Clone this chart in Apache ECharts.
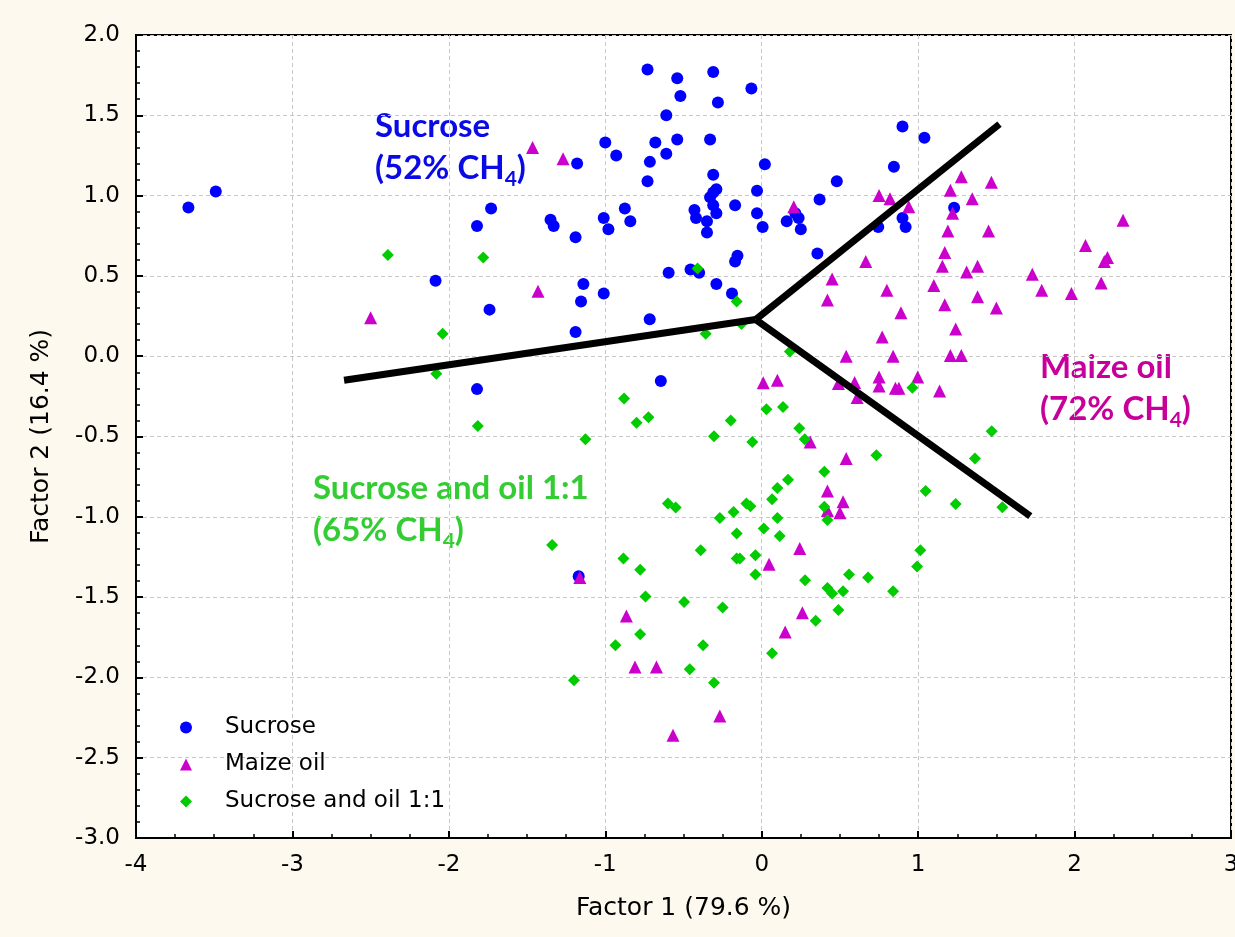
<!DOCTYPE html>
<html>
<head>
<meta charset="utf-8">
<script src="https://cdn.jsdelivr.net/npm/echarts@6/dist/echarts.min.js"></script>
<style>
  html, body { margin: 0; padding: 0; background: #fdf9ee; overflow: hidden; }
  #chart { width: 1235px; height: 937px; }
</style>
</head>
<body>
<div id="chart"></div>
<script>
// values, [factor1, factor2]
var sucrose = [
  [-3.665, 0.926], [-3.49, 1.026],
  [-1.0, 1.33], [-0.93, 1.25], [-1.18, 1.20], [-1.73, 0.92], [-1.82, 0.81], [-1.35, 0.85], [-1.33, 0.81],
  [-1.19, 0.74], [-1.01, 0.86], [-0.875, 0.92], [-0.84, 0.84], [-0.98, 0.79], [-2.085, 0.47], [-1.14, 0.45],
  [-1.01, 0.39], [-1.155, 0.34], [-1.74, 0.29], [-1.19, 0.15], [-0.716, 0.23], [-0.645, -0.155],
  [-1.82, -0.205], [-1.17, -1.37],
  [-0.73, 1.785], [-0.54, 1.73], [-0.31, 1.77], [-0.066, 1.667], [-0.52, 1.62], [-0.28, 1.58], [-0.61, 1.50],
  [-0.68, 1.33], [-0.54, 1.35], [-0.33, 1.35], [-0.61, 1.26], [-0.715, 1.21], [-0.73, 1.09], [-0.31, 1.13],
  [0.02, 1.195], [-0.29, 1.04], [-0.31, 1.02], [-0.33, 0.99], [-0.31, 0.94], [-0.29, 0.89], [-0.43, 0.91],
  [-0.42, 0.86], [-0.35, 0.84], [-0.35, 0.77], [-0.17, 0.94], [-0.03, 1.03], [-0.03, 0.89], [0.006, 0.805],
  [0.37, 0.975], [0.48, 1.09], [0.215, 0.89], [0.236, 0.86], [0.16, 0.84], [0.25, 0.79], [0.90, 1.43],
  [1.04, 1.36], [0.845, 1.18], [0.90, 0.86], [0.92, 0.805], [0.745, 0.805], [0.356, 0.64], [-0.155, 0.625],
  [-0.17, 0.59], [-0.595, 0.52], [-0.455, 0.54], [-0.40, 0.52], [-0.29, 0.45], [-0.19, 0.39], [1.23, 0.925]
];
var maizeOil = [
  [-1.465, 1.30], [-1.27, 1.23], [-1.43, 0.405], [-2.50, 0.24],
  [0.205, 0.93], [0.75, 1.0], [0.82, 0.98], [0.94, 0.93], [0.665, 0.59], [0.45, 0.48], [0.42, 0.35],
  [0.80, 0.41], [1.276, 1.117], [1.468, 1.083], [1.206, 1.034], [1.346, 0.98], [1.22, 0.89], [1.19, 0.78],
  [1.45, 0.78], [1.17, 0.645], [1.155, 0.56], [1.38, 0.56], [1.31, 0.525], [1.10, 0.44], [1.38, 0.37],
  [1.17, 0.32], [1.50, 0.30], [1.24, 0.17], [1.206, 0.004], [1.276, 0.004], [2.31, 0.847], [2.07, 0.69],
  [2.21, 0.615], [2.19, 0.59], [1.73, 0.51], [2.17, 0.456], [1.79, 0.41], [1.98, 0.39],
  [0.89, 0.27], [0.77, 0.12], [0.54, 0.0], [0.84, 0.0], [0.594, -0.164], [0.75, -0.13], [0.75, -0.185],
  [0.855, -0.20], [0.877, -0.20], [0.997, -0.13], [1.137, -0.216], [0.61, -0.257], [0.49, -0.17],
  [0.01, -0.166], [0.10, -0.15], [0.31, -0.534], [0.54, -0.637], [0.42, -0.84], [0.52, -0.907],
  [0.42, -0.96], [0.50, -0.975],
  [0.243, -1.197], [0.047, -1.295], [-1.163, -1.378], [-0.865, -1.617], [0.26, -1.598], [0.15, -1.717],
  [-0.81, -1.935], [-0.673, -1.935], [-0.268, -2.24], [-0.567, -2.36]
];
var sucroseOil = [
  [-2.39, 0.63], [-1.78, 0.615], [-2.04, 0.14], [-2.08, -0.11], [-1.815, -0.434], [-1.34, -1.175], [-1.20, -2.017],
  [-0.41, 0.546], [-0.16, 0.34], [-0.358, 0.14], [-0.13, 0.20], [0.18, 0.03], [-0.88, -0.264], [-0.80, -0.415],
  [-0.724, -0.38], [-1.127, -0.517], [-0.305, -0.498], [-0.198, -0.40], [-0.06, -0.535], [0.03, -0.33],
  [0.136, -0.316], [0.24, -0.448], [0.275, -0.517], [0.40, -0.72], [0.168, -0.77], [0.10, -0.82], [0.066, -0.89],
  [-0.098, -0.917], [-0.072, -0.934], [-0.18, -0.97], [-0.268, -1.007], [-0.60, -0.917], [-0.55, -0.942],
  [-0.16, -1.104], [0.013, -1.073], [0.10, -1.007], [0.115, -1.12], [0.40, -0.938], [0.42, -1.02],
  [0.963, -0.197], [1.47, -0.467], [0.733, -0.616], [1.363, -0.637], [1.048, -0.839], [1.24, -0.92], [1.538, -0.94],
  [1.014, -1.208], [0.993, -1.31], [0.558, -1.36], [0.68, -1.378], [0.84, -1.463], [0.42, -1.443], [0.45, -1.478],
  [0.52, -1.463], [0.49, -1.58],
  [-0.884, -1.26], [-0.777, -1.33], [-0.39, -1.208], [-0.16, -1.26], [-0.14, -1.26], [-0.04, -1.24], [-0.04, -1.36],
  [0.277, -1.395], [-0.743, -1.497], [-0.496, -1.53], [-0.25, -1.565], [0.345, -1.648], [-0.777, -1.731],
  [-0.935, -1.8], [-0.375, -1.8], [0.066, -1.85], [-0.46, -1.95], [-0.305, -2.034]
];
// the three black separating lines
var lineLeft = [[-2.67, -0.15], [-0.038, 0.228]];
var lineUp = [[-0.038, 0.228], [1.52, 1.445]];
var lineDown = [[-0.038, 0.228], [1.717, -0.996]];

var seriesNames = ['Sucrose', 'Maize oil', 'Sucrose and oil 1:1'];

var axisFont = 'DejaVu Sans';
var chart = echarts.init(document.getElementById('chart'));

function boundaryLine(data) {
    return {
        type: 'line',
        data: data,
        symbol: 'none',
        silent: true,
        z: 5,
        lineStyle: { color: '#000', width: 7, cap: 'butt' }
    };
}

function groupLabel(left, top, first, second, color) {
    return {
        type: 'text',
        left: left,
        top: top,
        style: {
            text: '{a|' + first + '}\n{a|' + second + '}{s|4}{a|)}',
            rich: {
                a: { fontSize: 33, fontWeight: 'bold', fontFamily: 'Lato', fill: color, lineHeight: 42 },
                s: { fontSize: 21, fontWeight: 'bold', fontFamily: 'Lato', fill: color, verticalAlign: 'bottom', padding: [3, 0, 0, 0] }
            }
        }
    };
}

chart.setOption({
    animation: false,
    backgroundColor: '#fdf9ee',
    grid: {
        left: 136, top: 35, width: 1095, height: 803,
        outerBoundsMode: 'none',
        show: true, backgroundColor: '#ffffff', borderColor: '#000', borderWidth: 2
    },
    legend: {
        data: seriesNames,
        orient: 'vertical',
        left: 175,
        top: 711,
        itemWidth: 12,
        itemHeight: 12,
        itemGap: 14,
        textStyle: { fontFamily: axisFont, fontSize: 23, color: '#000', padding: [0, 0, 0, 28] }
    },
    xAxis: {
        type: 'value',
        min: -4, max: 3, interval: 1,
        name: 'Factor 1 (79.6 %)',
        nameLocation: 'middle',
        nameGap: 58,
        nameTextStyle: { fontFamily: axisFont, fontSize: 25, color: '#000' },
        axisLine: { onZero: false, lineStyle: { color: '#000', width: 2 } },
        axisTick: { inside: true, length: 7, lineStyle: { color: '#000', width: 2 } },
        minorTick: { show: true, splitNumber: 4, length: 4, lineStyle: { color: '#000', width: 1.5 } },
        axisLabel: { fontFamily: axisFont, fontSize: 23, color: '#000', margin: 16 },
        splitLine: { lineStyle: { color: '#c8c8c8', type: [4, 3], width: 1 } }
    },
    yAxis: {
        type: 'value',
        min: -3, max: 2, interval: 0.5,
        name: 'Factor 2 (16.4 %)',
        nameLocation: 'middle',
        nameRotate: 90,
        nameGap: 82,
        nameTextStyle: { fontFamily: axisFont, fontSize: 25, color: '#000' },
        axisLine: { onZero: false, lineStyle: { color: '#000', width: 2 } },
        axisTick: { inside: true, length: 7, lineStyle: { color: '#000', width: 2 } },
        minorTick: { show: true, splitNumber: 5, length: 4, lineStyle: { color: '#000', width: 1.5 } },
        axisLabel: {
            fontFamily: axisFont, fontSize: 23, color: '#000', margin: 16,
            formatter: function (v) { return v.toFixed(1); }
        },
        splitLine: { lineStyle: { color: '#c8c8c8', type: [4, 3], width: 1 } }
    },
    series: [{
        name: 'Sucrose',
        type: 'scatter',
        data: sucrose,
        symbol: 'circle',
        symbolSize: 12,
        itemStyle: { color: '#0000ff', opacity: 1 }
    }, {
        name: 'Maize oil',
        type: 'scatter',
        data: maizeOil,
        symbol: 'triangle',
        symbolSize: 13,
        itemStyle: { color: '#cc00cc', opacity: 1 }
    }, {
        name: 'Sucrose and oil 1:1',
        type: 'scatter',
        data: sucroseOil,
        symbol: 'diamond',
        symbolSize: 12,
        itemStyle: { color: '#00cc00', opacity: 1 }
    },
    boundaryLine(lineLeft),
    boundaryLine(lineUp),
    boundaryLine(lineDown)
    ],
    graphic: [
        groupLabel(375, 110, 'Sucrose', '(52% CH', '#0a0ae6'),
        groupLabel(1040, 351, 'Maize oil', '(72% CH', '#c8009b'),
        groupLabel(313, 472, 'Sucrose and oil 1:1', '(65% CH', '#33cc33')
    ]
});
</script>
</body>
</html>
